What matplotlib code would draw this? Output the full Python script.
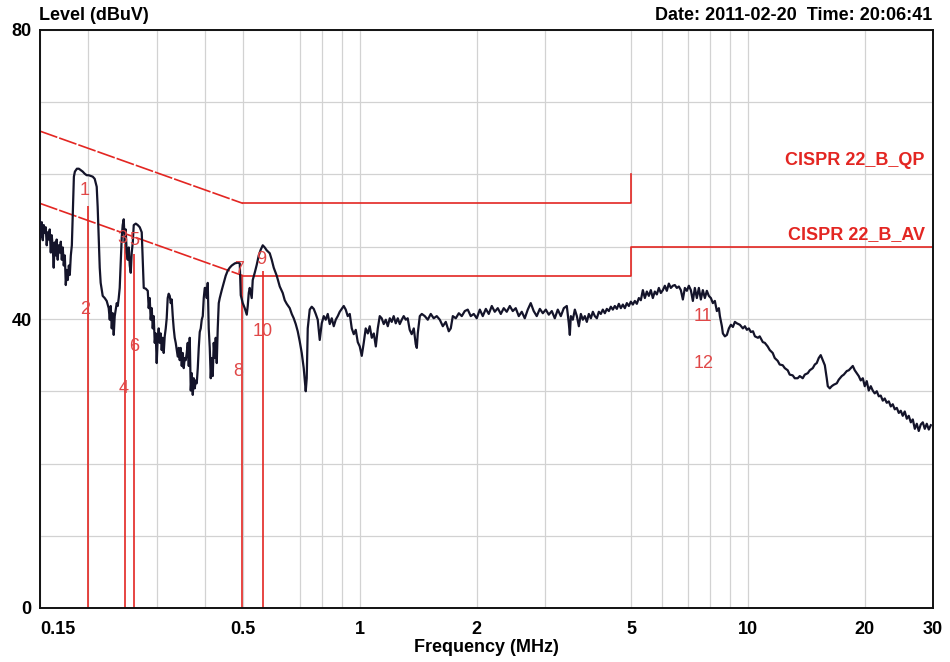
"""EMI conducted emission scan with CISPR 22 class B limits."""

import matplotlib
matplotlib.use('Agg')  # Non-interactive backend
import matplotlib.pyplot as plt

# Measured trace: frequency (MHz) and level (dBuV)
freq_mhz = [
    0.1498, 0.1507, 0.1516, 0.1525, 0.1534, 0.1543, 0.1552, 0.1561, 0.1571, 0.1580,
    0.1589, 0.1599, 0.1608, 0.1618, 0.1627, 0.1637, 0.1647, 0.1656, 0.1666, 0.1676,
    0.1687, 0.1697, 0.1707, 0.1717, 0.1727, 0.1738, 0.1748, 0.1759, 0.1769, 0.1780,
    0.1790, 0.1801, 0.1812, 0.1823, 0.1834,
    0.1845, 0.1867, 0.1889, 0.1910, 0.1933, 0.1956, 0.1979, 0.2003, 0.2027, 0.2051,
    0.2075, 0.2100, 0.2112, 0.2125, 0.2138, 0.2150, 0.2176, 0.2202, 0.2228, 0.2255,
    0.2269, 0.2282, 0.2296, 0.2310, 0.2323, 0.2337, 0.2351, 0.2365, 0.2379, 0.2393,
    0.2407, 0.2421, 0.2436, 0.2450, 0.2465, 0.2480, 0.2494, 0.2509, 0.2524, 0.2540,
    0.2555, 0.2570, 0.2585, 0.2601, 0.2616, 0.2648, 0.2679, 0.2711, 0.2743, 0.2760,
    0.2776, 0.2809, 0.2843, 0.2859, 0.2876, 0.2893, 0.2911, 0.2928, 0.2945, 0.2963,
    0.2980, 0.2998, 0.3016, 0.3034, 0.3052, 0.3070, 0.3088, 0.3107, 0.3125, 0.3144,
    0.3163, 0.3181, 0.3200, 0.3219, 0.3239, 0.3258, 0.3277, 0.3297, 0.3316, 0.3336,
    0.3356, 0.3376, 0.3396, 0.3416, 0.3437, 0.3457, 0.3478, 0.3499, 0.3519, 0.3540,
    0.3562, 0.3583, 0.3604, 0.3626, 0.3647, 0.3669, 0.3691, 0.3713, 0.3735, 0.3757,
    0.3780, 0.3802, 0.3825, 0.3847, 0.3870, 0.3893, 0.3916, 0.3940, 0.3963, 0.3987,
    0.4010, 0.4034, 0.4058, 0.4082, 0.4107, 0.4131, 0.4156, 0.4180, 0.4205, 0.4230,
    0.4255, 0.4281, 0.4306, 0.4332, 0.4358, 0.4410, 0.4462, 0.4515, 0.4569, 0.4624,
    0.4679, 0.4765, 0.4853, 0.4907,
    0.4936, 0.4995, 0.5054, 0.5115, 0.5145, 0.5176, 0.5206, 0.5268, 0.5300, 0.5363,
    0.5427, 0.5492, 0.5558, 0.5624, 0.5691, 0.5759, 0.5862, 0.5932, 0.6003, 0.6110,
    0.6221, 0.6332, 0.6408, 0.6484, 0.6601, 0.6680, 0.6759, 0.6840, 0.6921, 0.7004,
    0.7088, 0.7172, 0.7258, 0.7301, 0.7345, 0.7432, 0.7521, 0.7611, 0.7702, 0.7794,
    0.7887, 0.7981, 0.8077, 0.8173, 0.8271, 0.8369, 0.8469, 0.8571, 0.8673, 0.8777,
    0.8880, 0.8987, 0.9094, 0.9202, 0.9312, 0.9424, 0.9537, 0.9651, 0.9766, 0.9883,
    1.000, 1.012, 1.024, 1.036, 1.049, 1.061, 1.074, 1.087, 1.100, 1.113,
    1.126, 1.139, 1.153, 1.167, 1.181, 1.195, 1.209, 1.223, 1.238, 1.253,
    1.268, 1.283, 1.298, 1.314, 1.329, 1.345, 1.361, 1.378, 1.394, 1.403,
    1.411, 1.428, 1.445, 1.471, 1.497, 1.524, 1.551, 1.579, 1.608, 1.637,
    1.666, 1.696, 1.716, 1.737, 1.768, 1.800, 1.832, 1.865, 1.898, 1.932,
    1.967, 2.002,
    2.039, 2.075, 2.113, 2.150, 2.189, 2.228, 2.268, 2.309, 2.350, 2.392,
    2.436, 2.479, 2.523, 2.569, 2.615, 2.662, 2.710, 2.758, 2.807, 2.858,
    2.911, 2.963, 3.016, 3.070, 3.125, 3.181, 3.238, 3.297, 3.356, 3.416,
    3.457, 3.478, 3.499, 3.540, 3.583, 3.626, 3.669, 3.713, 3.757, 3.802,
    3.847, 3.893, 3.940, 3.987, 4.034, 4.083, 4.131, 4.180, 4.230, 4.281,
    4.332, 4.384, 4.436, 4.489, 4.542, 4.597, 4.652, 4.707, 4.764, 4.820,
    4.878, 4.936, 4.995, 5.055, 5.115, 5.176, 5.238, 5.300, 5.364, 5.428,
    5.492, 5.558, 5.624, 5.691, 5.759, 5.828, 5.898, 5.968, 6.040, 6.112,
    6.184, 6.258, 6.333, 6.409, 6.485, 6.562, 6.641, 6.720, 6.801, 6.882,
    6.964, 7.047, 7.131, 7.217, 7.302, 7.389, 7.478, 7.567, 7.657, 7.749,
    7.841, 7.935, 8.031, 8.126, 8.223, 8.321, 8.421, 8.472, 8.573, 8.624,
    8.727, 8.831, 8.937, 9.044, 9.152, 9.261, 9.372, 9.540, 9.711, 9.827,
    9.944, 10.06, 10.18, 10.31, 10.43, 10.62, 10.73, 10.93, 11.06, 11.25,
    11.39, 11.59, 11.73, 11.94, 12.08, 12.30, 12.45, 12.67, 12.82, 13.05,
    13.21, 13.44, 13.61, 13.85, 14.02, 14.27, 14.44, 14.70, 14.88, 15.05,
    15.23, 15.41, 15.60, 15.79, 15.97, 16.07, 16.26, 16.45, 16.65, 16.95,
    17.15, 17.46, 17.67, 17.99, 18.20, 18.42, 18.64, 18.86, 19.09, 19.31,
    19.54, 19.78, 20.01, 20.25, 20.49, 20.74, 20.98, 21.23, 21.49, 21.75,
    22.00, 22.27, 22.53, 22.80, 23.08, 23.35, 23.63, 23.91, 24.20, 24.49,
    24.78, 25.07, 25.37, 25.68, 25.98, 26.30, 26.61, 26.93, 27.25, 27.57,
    27.90, 28.24, 28.57, 28.91, 29.26, 29.61,
]
level_dbuv = [
    53.8, 51.3, 53.4, 50.9, 53.0, 51.9, 52.7, 50.2, 52.0, 51.0,
    52.4, 49.2, 51.6, 49.9, 47.1, 50.6, 48.8, 51.0, 48.2, 50.2,
    49.2, 50.7, 48.2, 49.9, 47.4, 48.8, 44.7, 46.8, 45.4, 47.4,
    46.1, 48.8, 50.2, 54.8, 59.7,
    60.4, 60.8, 60.8, 60.6, 60.4, 60.1, 59.9, 59.9, 59.8, 59.7,
    59.4, 58.3, 55.5, 51.3, 47.1, 45.0, 43.2, 42.9, 42.5, 41.5,
    39.9, 41.8, 38.7, 40.8, 37.8, 40.4, 41.3, 42.2, 41.8, 42.9,
    44.3, 47.8, 51.3, 53.0, 53.8, 50.6, 52.4, 49.2, 48.2, 49.9,
    47.4, 46.4, 49.2, 50.6, 53.0, 53.2, 53.0, 52.7, 52.0, 48.2,
    44.3, 44.2, 43.9, 41.5, 42.9, 39.9, 41.5, 38.7, 40.4, 36.7,
    38.0, 33.9, 37.4, 38.7, 36.7, 38.0, 35.7, 37.4, 35.3, 37.6,
    38.7, 40.1, 42.9, 43.5, 43.2, 42.2, 42.7, 40.4, 38.7, 37.4,
    36.7, 35.7, 34.8, 36.0, 34.3, 36.0, 33.5, 35.3, 33.2, 34.6,
    34.3, 35.3, 36.7, 33.5, 37.4, 30.1, 32.5, 29.5, 31.8, 30.4,
    31.5, 31.1, 33.2, 36.0, 38.2, 38.7, 39.9, 40.4, 42.9, 44.3,
    44.3, 42.9, 45.0, 38.7, 36.0, 31.8, 34.6, 32.1, 36.7, 34.6,
    37.4, 33.9, 38.7, 42.2, 42.9, 44.0, 45.0, 46.0, 46.7, 47.1,
    47.4, 47.7, 47.8, 47.7,
    43.3, 42.2, 41.5, 40.6, 41.8, 43.6, 44.3, 42.9, 45.4, 46.4,
    47.5, 48.8, 49.6, 50.2, 49.9, 49.5, 49.1, 48.2, 47.1, 46.0,
    44.5, 43.6, 42.6, 42.1, 41.5, 40.7, 40.1, 39.3, 38.3, 36.9,
    35.3, 33.2, 30.0, 31.8, 38.7, 41.3, 41.7, 41.4, 40.7, 39.9,
    37.1, 39.4, 40.4, 39.9, 40.7, 39.3, 40.1, 39.0, 39.9, 40.4,
    41.0, 41.4, 41.8, 41.3, 40.4, 40.7, 38.7, 37.9, 38.5, 36.8,
    36.2, 34.9, 36.7, 38.7, 38.0, 39.0, 37.4, 38.0, 36.2, 38.7,
    40.4, 40.1, 39.3, 39.9, 39.0, 40.1, 39.6, 40.4, 39.4, 40.1,
    39.3, 39.9, 40.4, 39.9, 40.1, 38.5, 37.9, 38.7, 36.5, 36.0,
    38.0, 40.4, 40.7, 40.4, 39.9, 40.7, 40.1, 40.4, 39.9, 39.0,
    39.6, 38.3, 38.7, 40.4, 40.1, 40.8, 40.4, 41.1, 41.3, 40.4,
    40.7, 40.1,
    41.3, 40.4, 41.4, 40.7, 41.8, 41.0, 41.5, 40.7, 41.5, 41.0,
    41.8, 41.1, 41.5, 40.4, 41.0, 40.1, 41.3, 42.2, 41.1, 40.4,
    41.4, 40.8, 41.3, 40.6, 41.1, 40.1, 41.3, 40.4, 41.5, 41.8,
    39.4, 37.8, 40.4, 39.9, 41.3, 40.4, 39.0, 40.7, 39.9, 40.4,
    39.6, 40.7, 40.1, 41.0, 40.4, 40.1, 41.0, 40.7, 41.3, 40.8,
    41.4, 41.1, 41.7, 41.3, 41.8, 41.4, 42.1, 41.5, 42.0, 41.5,
    42.2, 41.8, 42.4, 42.0, 42.5, 42.1, 42.9, 42.6, 44.0, 42.9,
    43.8, 43.2, 44.0, 42.9, 43.8, 43.4, 44.3, 43.6, 44.0, 44.6,
    43.9, 44.9, 44.3, 44.6, 44.7, 44.3, 44.5, 44.0, 42.7, 44.3,
    43.9, 44.6, 44.0, 42.5, 44.3, 42.9, 44.3, 42.7, 44.0, 42.9,
    43.9, 43.2, 42.9, 42.2, 42.5, 41.1, 41.5, 40.4, 39.0, 38.0,
    37.6, 37.8, 38.7, 39.2, 38.9, 39.6, 39.4, 39.2, 38.7, 39.0,
    38.5, 38.7, 38.2, 38.3, 37.6, 37.4, 37.6, 36.8, 36.7, 36.2,
    35.7, 35.3, 34.6, 34.2, 33.7, 33.6, 33.2, 32.9, 32.3, 32.2,
    31.8, 31.8, 32.1, 31.8, 32.3, 32.5, 32.9, 33.2, 33.7, 33.9,
    34.6, 35.0, 34.3, 33.6, 31.8, 30.7, 30.4, 30.7, 30.9, 31.1,
    31.6, 32.1, 32.3, 32.8, 32.9, 33.2, 33.5, 32.9, 32.5, 32.1,
    31.5, 31.8, 30.7, 31.4, 30.1, 30.7, 30.1, 29.7, 30.0, 29.3,
    29.4, 28.7, 29.0, 28.4, 28.6, 27.9, 28.2, 27.5, 27.7, 27.0,
    27.3, 26.6, 27.2, 26.2, 26.6, 25.7, 26.1, 24.8, 25.5, 24.5,
    25.4, 25.7, 24.8, 25.5, 24.7, 25.3,
]

# CISPR 22 class B limit lines (MHz, dBuV)
qp_freq = [0.15, 0.5, 5, 5]
qp_level = [66, 56, 56, 60]
av_freq = [0.15, 0.5, 5, 5, 30]
av_level = [56, 46, 46, 50, 50]

# Marker lines and labels
marker_freq = [0.199, 0.249, 0.262, 0.496, 0.563]
marker_top = [55.7, 50.4, 49.0, 46.0, 46.7]
label_text = ['1', '2', '3', '4', '5', '6', '7', '8', '9', '10', '11', '12']
label_freq = [0.195, 0.196, 0.245, 0.247, 0.263, 0.263,
              0.488, 0.486, 0.558, 0.563, 7.67, 7.67]
label_level = [57.8, 41.3, 51.1, 30.4, 50.9, 36.2,
               46.8, 32.7, 48.3, 38.3, 40.4, 33.9]

x_ticks = [0.15, 0.5, 1, 2, 5, 10, 20, 30]
x_tick_labels = ['0.15', '0.5', '1', '2', '5', '10', '20', '30']
x_grid = [0.2, 0.3, 0.4, 0.7, 0.8, 0.9, 3, 6, 7, 8, 9]
y_ticks = [0, 40, 80]
y_tick_labels = ['0', '40', '80']
y_grid = [10, 20, 30, 50, 60, 70]

plt.rcParams['font.family'] = ['Liberation Sans', 'DejaVu Sans']

RED = '#e32622'
fig = plt.figure(figsize=(9.5, 6.62), dpi=100)
ax = fig.add_axes([40 / 950, 1 - 608 / 662, 893 / 950, 578 / 662])

ax.set_xscale('log')
ax.set_xlim(0.15, 30)
ax.set_ylim(0, 80)

ax.set_xticks(x_ticks)
ax.set_xticklabels(x_tick_labels, fontsize=13, fontweight='bold')
ax.set_xticks(x_grid, minor=True)
ax.set_xticklabels([], minor=True)
ax.set_yticks(y_ticks)
ax.set_yticklabels(y_tick_labels, fontsize=13, fontweight='bold')
ax.set_yticks(y_grid, minor=True)
ax.tick_params(which='both', length=0)
ax.tick_params(axis='x', pad=9)
ax.tick_params(axis='y', pad=6)
ax.get_xticklabels()[0].set_ha('left')
ax.grid(which='both', color='#d2d2d2', linewidth=0.9)
ax.set_axisbelow(True)
for sp in ax.spines.values():
    sp.set_linewidth(1.4)
    sp.set_color('#111111')

# Limit lines: sloped part dashed, flat part solid
dash = (0, (11, 1.2))
ax.plot(qp_freq[:2], qp_level[:2], color=RED, lw=1.2, ls=dash, zorder=2)
ax.plot(qp_freq[1:], qp_level[1:], color=RED, lw=1.2, zorder=2)
ax.plot(av_freq[:2], av_level[:2], color=RED, lw=1.2, ls=dash, zorder=2)
ax.plot(av_freq[1:], av_level[1:], color=RED, lw=1.2, zorder=2)

ax.text(28.6, 61.9, 'CISPR 22_B_QP', color=RED, fontsize=13,
        fontweight='bold', ha='right', va='center')
ax.text(28.6, 51.7, 'CISPR 22_B_AV', color=RED, fontsize=13,
        fontweight='bold', ha='right', va='center')

# Marker lines
ax.vlines(marker_freq, 0, marker_top, color=RED, lw=1.2, zorder=2)

# Measurement trace
ax.plot(freq_mhz, level_dbuv, color='#14142a', lw=1.6, zorder=3)

for txt, f, lv in zip(label_text, label_freq, label_level):
    ax.text(f, lv, txt, color='#e04848', fontsize=13, ha='center',
            va='center', zorder=4)

fig.text(39 / 950, 1 - 15 / 662, 'Level (dBuV)', fontsize=13,
         fontweight='bold', ha='left', va='center')
fig.text(932 / 950, 1 - 15 / 662, 'Date: 2011-02-20  Time: 20:06:41',
         fontsize=13, fontweight='bold', ha='right', va='center')
fig.text(486 / 950, 1 - 648 / 662, 'Frequency (MHz)', fontsize=13,
         fontweight='bold', ha='center', va='center')

plt.savefig('out.png', dpi=100)
plt.close()
